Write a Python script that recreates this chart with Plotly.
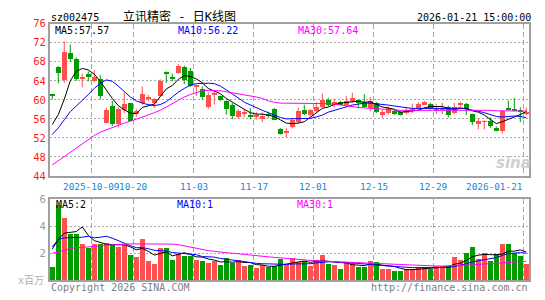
import plotly.graph_objects as go

W, H = 545, 300

dates = [
    "2025-09-22", "2025-09-23", "2025-09-24", "2025-09-25", "2025-09-26", "2025-09-29", "2025-09-30",
    "2025-10-09", "2025-10-10", "2025-10-13", "2025-10-14", "2025-10-15", "2025-10-16", "2025-10-17",
    "2025-10-20", "2025-10-21", "2025-10-22", "2025-10-23", "2025-10-24", "2025-10-27", "2025-10-28",
    "2025-10-29", "2025-10-30", "2025-10-31", "2025-11-03", "2025-11-04", "2025-11-05", "2025-11-06",
    "2025-11-07", "2025-11-10", "2025-11-11", "2025-11-12", "2025-11-13", "2025-11-14", "2025-11-17",
    "2025-11-18", "2025-11-19", "2025-11-20", "2025-11-21", "2025-11-24", "2025-11-25", "2025-11-26",
    "2025-11-27", "2025-11-28", "2025-12-01", "2025-12-02", "2025-12-03", "2025-12-04", "2025-12-05",
    "2025-12-08", "2025-12-09", "2025-12-10", "2025-12-11", "2025-12-12", "2025-12-15", "2025-12-16",
    "2025-12-17", "2025-12-18", "2025-12-19", "2025-12-22", "2025-12-23", "2025-12-24", "2025-12-25",
    "2025-12-26", "2025-12-29", "2025-12-30", "2025-12-31", "2026-01-05", "2026-01-06", "2026-01-07",
    "2026-01-08", "2026-01-09", "2026-01-12", "2026-01-13", "2026-01-14", "2026-01-15", "2026-01-16",
    "2026-01-19", "2026-01-20", "2026-01-21",
]

open_ = [61.1, 67.0, 64.3, 69.8, 68.7, 64.4, 65.5, 64.0, 64.4, 55.2,
         58.8, 55.0, 58.0, 59.3, 57.0, 59.4, 60.3, 59.3, 60.8, 65.8,
         64.8, 65.8, 67.0, 66.1, 62.8, 62.4, 58.5, 61.0, 60.8, 59.8,
         59.0, 56.4, 57.2, 56.8, 56.5, 56.0, 57.0, 58.2, 54.0, 53.2,
         54.3, 55.4, 57.9, 56.9, 57.8, 58.6, 60.0, 59.0, 59.5, 59.0,
         59.9, 60.0, 59.5, 58.4, 59.4, 56.8, 57.3, 57.7, 57.4, 57.3,
         57.7, 58.3, 59.1, 59.2, 57.8, 58.0, 58.6, 57.2, 58.9, 59.1,
         57.0, 54.9, 55.4, 55.6, 54.2, 53.4, 58.2, 58.2, 58.0, 57.0]
high = [61.2, 67.1, 72.3, 71.6, 68.9, 65.5, 66.0, 66.2, 65.2, 58.4,
        59.8, 58.5, 61.5, 59.4, 58.1, 62.8, 61.0, 60.4, 64.3, 66.0,
        65.5, 67.5, 67.2, 66.7, 63.2, 62.8, 61.6, 62.0, 60.9, 59.9,
        59.3, 58.0, 58.2, 58.3, 57.5, 57.3, 57.5, 58.3, 54.1, 54.1,
        56.2, 58.4, 59.0, 58.1, 59.5, 61.3, 60.4, 60.3, 59.8, 60.8,
        61.5, 60.1, 61.2, 60.6, 59.6, 57.9, 58.6, 58.2, 57.7, 58.3,
        59.2, 59.5, 59.8, 59.4, 59.2, 59.4, 58.8, 59.4, 59.6, 59.4,
        57.1, 56.2, 55.7, 56.3, 54.4, 57.9, 59.9, 60.4, 58.4, 58.4]
low = [60.1, 63.5, 63.6, 68.0, 64.0, 62.6, 63.9, 63.7, 60.1, 55.0,
       54.5, 54.2, 57.2, 55.5, 56.4, 59.0, 59.7, 58.3, 60.6, 63.6,
       63.9, 65.5, 63.3, 62.7, 60.8, 60.1, 58.1, 59.0, 59.7, 56.9,
       55.9, 56.0, 56.3, 55.9, 55.8, 55.3, 56.2, 55.7, 52.7, 52.1,
       54.0, 55.0, 56.8, 56.5, 57.4, 58.3, 58.6, 58.4, 58.8, 58.7,
       59.3, 58.2, 58.3, 57.6, 57.2, 56.2, 56.9, 56.8, 56.7, 56.9,
       57.2, 57.9, 59.0, 58.0, 57.0, 57.0, 56.3, 57.0, 58.5, 56.8,
       54.7, 53.8, 53.8, 54.1, 53.4, 52.9, 57.8, 57.6, 55.3, 56.7]
close = [61.0, 65.6, 70.2, 68.7, 64.4, 64.9, 64.8, 64.9, 60.9, 57.9,
         54.9, 58.2, 59.2, 55.7, 57.6, 61.3, 60.5, 60.2, 64.0, 65.6,
         64.6, 67.2, 64.2, 62.9, 63.1, 60.7, 61.0, 61.5, 60.0, 58.2,
         56.6, 57.8, 57.4, 56.6, 56.7, 56.6, 56.8, 55.9, 52.9, 53.4,
         55.9, 57.6, 57.0, 57.9, 58.6, 60.0, 59.0, 59.7, 59.1, 59.9,
         60.5, 59.4, 58.5, 59.9, 57.4, 57.5, 58.4, 57.0, 56.9, 57.9,
         58.2, 59.2, 59.5, 58.3, 58.0, 58.1, 56.9, 58.6, 59.4, 58.2,
         55.3, 55.6, 55.6, 54.6, 53.6, 57.6, 58.0, 57.9, 57.6, 57.5]

ma5 = [54.8, 56.9, 60.1, 64.0, 66.0, 66.6, 66.3, 65.4, 63.9, 62.1,
       60.3, 58.8, 57.9, 57.2, 57.1, 58.4, 58.7, 59.1, 60.7, 62.3,
       63.0, 64.3, 65.1, 64.9, 64.4, 63.6, 62.4, 61.8, 61.3, 60.3,
       59.5, 58.8, 58.0, 57.3, 57.0, 57.0, 56.8, 56.5, 55.8, 55.1,
       55.0, 55.1, 55.4, 56.4, 57.4, 58.2, 58.5, 59.0, 59.3, 59.5,
       59.6, 59.7, 59.5, 59.6, 59.1, 58.5, 58.3, 58.0, 57.4, 57.5,
       57.7, 57.8, 58.3, 58.6, 58.6, 58.6, 58.2, 58.0, 58.2, 58.2,
       57.7, 57.4, 56.8, 55.9, 55.0, 55.4, 55.9, 56.3, 56.9, 57.57]
ma10 = [52.7, 54.1, 55.8, 57.5, 58.7, 59.8, 61.1, 62.4, 63.5, 64.2,
        63.9, 62.9, 61.7, 60.6, 59.8, 59.3, 59.0, 58.8, 59.0, 59.6,
        60.6, 61.6, 62.4, 63.1, 63.4, 63.5, 63.5, 63.4, 62.9, 62.1,
        61.3, 60.4, 59.5, 58.9, 58.3, 57.8, 57.3, 56.8, 56.3, 56.0,
        56.0, 56.0, 56.0, 56.1, 56.4, 56.8, 57.4, 57.8, 58.1, 58.5,
        58.9, 59.1, 59.3, 59.3, 59.2, 59.0, 58.9, 58.7, 58.5, 58.3,
        58.2, 58.2, 58.2, 58.2, 58.1, 58.1, 58.1, 58.2, 58.3, 58.1,
        57.9, 57.6, 57.3, 56.9, 56.5, 56.4, 56.5, 56.6, 56.5, 56.22]
ma30 = [46.3, 47.2, 48.0, 48.9, 49.8, 50.8, 51.7, 52.5, 53.2, 53.7,
        54.2, 54.7, 55.1, 55.5, 55.9, 56.3, 56.8, 57.3, 57.8, 58.5,
        59.2, 59.9, 60.6, 61.1, 61.5, 61.9, 62.0, 62.0, 61.9, 61.7,
        61.5, 61.3, 61.1, 60.9, 60.6, 60.3, 59.8, 59.5, 59.3, 59.3,
        59.3, 59.3, 59.2, 59.2, 59.2, 59.2, 59.2, 59.1, 58.9, 58.7,
        58.5, 58.4, 58.3, 58.2, 58.1, 58.0, 57.9, 57.9, 57.8, 57.8,
        57.8, 57.8, 57.8, 57.8, 57.9, 57.9, 57.9, 57.9, 57.9, 57.9,
        57.9, 57.8, 57.8, 57.8, 57.7, 57.7, 57.7, 57.7, 57.6, 57.64]

volume = [0.99, 5.53, 4.61, 3.40, 3.40, 2.70, 2.41, 2.70, 2.65, 2.77,
          2.58, 2.46, 2.58, 1.89, 1.70, 3.05, 1.42, 1.18, 2.41, 2.41,
          1.51, 1.94, 1.82, 1.82, 1.51, 1.42, 1.23, 1.42, 1.11, 1.63,
          1.23, 1.47, 1.04, 1.11, 0.87, 1.11, 0.99, 1.04, 1.54, 1.11,
          1.65, 1.35, 1.39, 1.04, 1.47, 1.89, 1.18, 1.11, 0.83, 1.28,
          1.28, 0.99, 0.99, 1.39, 1.32, 0.83, 0.83, 0.69, 0.69, 0.83,
          0.83, 0.95, 0.95, 0.83, 1.04, 1.04, 1.04, 1.68, 1.47, 1.99,
          2.46, 1.58, 1.99, 1.39, 1.94, 2.70, 2.70, 1.99, 1.82, 1.18]
vma5 = [2.29, 3.00, 3.47, 3.52, 3.59, 3.93, 3.31, 2.92, 2.77, 2.65,
        2.62, 2.63, 2.61, 2.46, 2.24, 2.34, 2.13, 1.85, 1.95, 2.09,
        1.79, 1.89, 2.02, 1.90, 1.72, 1.70, 1.56, 1.48, 1.34, 1.36,
        1.32, 1.37, 1.30, 1.30, 1.14, 1.12, 1.02, 1.02, 1.11, 1.16,
        1.27, 1.34, 1.41, 1.31, 1.38, 1.43, 1.39, 1.34, 1.30, 1.26,
        1.14, 1.10, 1.07, 1.19, 1.19, 1.10, 1.07, 1.01, 0.87, 0.77,
        0.77, 0.80, 0.87, 0.88, 0.92, 0.96, 0.98, 1.17, 1.25, 1.44,
        1.73, 1.84, 1.90, 1.88, 1.87, 1.92, 2.14, 2.14, 2.23, 2.08]
vma10 = [2.46, 3.00, 3.12, 3.12, 3.12, 3.17, 3.24, 3.12, 3.17, 3.24,
         3.10, 2.90, 2.72, 2.55, 2.40, 2.40, 2.32, 2.20, 2.18, 2.15,
         2.04, 1.99, 1.93, 1.92, 1.88, 1.74, 1.70, 1.70, 1.60, 1.52,
         1.48, 1.43, 1.36, 1.30, 1.24, 1.21, 1.19, 1.15, 1.18, 1.16,
         1.19, 1.18, 1.22, 1.21, 1.27, 1.33, 1.35, 1.35, 1.30, 1.31,
         1.28, 1.24, 1.19, 1.18, 1.16, 1.08, 1.04, 1.00, 0.97, 0.94,
         0.92, 0.92, 0.92, 0.90, 0.90, 0.91, 0.93, 1.00, 1.08, 1.20,
         1.35, 1.42, 1.52, 1.57, 1.66, 1.82, 1.96, 2.00, 2.03, 1.99]
vma30 = [1.99, 2.06, 2.22, 2.29, 2.41, 2.41, 2.46, 2.53, 2.58, 2.58,
         2.60, 2.65, 2.66, 2.68, 2.68, 2.68, 2.68, 2.68, 2.68, 2.68,
         2.66, 2.62, 2.53, 2.41, 2.34, 2.22, 2.18, 2.13, 2.06, 2.02,
         1.99, 1.94, 1.89, 1.82, 1.80, 1.77, 1.72, 1.68, 1.64, 1.60,
         1.56, 1.50, 1.48, 1.45, 1.42, 1.40, 1.38, 1.35, 1.33, 1.31,
         1.29, 1.27, 1.25, 1.23, 1.21, 1.19, 1.17, 1.15, 1.12, 1.10,
         1.08, 1.07, 1.06, 1.05, 1.04, 1.04, 1.05, 1.07, 1.08, 1.10,
         1.13, 1.16, 1.19, 1.21, 1.24, 1.28, 1.32, 1.34, 1.37, 1.39]

price_ticks = [44, 48, 52, 56, 60, 64, 68, 72, 76]
vol_ticks = [2, 4, 6]
tick_dates = ["2025-10-09", "2025-10-20", "2025-11-03", "2025-11-17",
              "2025-12-01", "2025-12-15", "2025-12-29", "2026-01-21"]
tick_labels = ["2025-10-09", "10-20", "11-03", "11-17", "12-01", "12-15", "12-29", "2026-01-21"]

title_code = "sz002475"
title_name = "立讯精密 - 日K线图"
title_time = "2026-01-21 15:00:00"
legend_price = [("MA5:57.57", "#000000"), ("MA10:56.22", "#0000ff"), ("MA30:57.64", "#ff00ff")]
legend_vol = [("MA5:2", "#000000"), ("MA10:1", "#0000ff"), ("MA30:1", "#ff00ff")]

# ---------------------------------------------------------------
RED = "#ff5050"
GREEN = "#009c00"
GRID = "#a8a8a8"
MONO = "DejaVu Sans Mono, monospace"

x = list(range(len(dates)))
up = [c >= o for o, c in zip(open_, close)]
cols = [RED if u else GREEN for u in up]
body_base = [min(o, c) for o, c in zip(open_, close)]
body_h = [max(abs(c - o), 0.18) for o, c in zip(open_, close)]

fig = go.Figure()

# wicks
for want, col in ((True, RED), (False, GREEN)):
    wx, wy = [], []
    for i in x:
        if up[i] == want:
            wx += [i, i, None]
            wy += [low[i], high[i], None]
    fig.add_trace(go.Scatter(x=wx, y=wy, mode="lines", line=dict(color=col, width=1),
                             xaxis="x", yaxis="y", hoverinfo="skip", connectgaps=False))

# bodies
fig.add_trace(go.Bar(x=x, y=body_h, base=body_base, width=0.8,
                     marker=dict(color=cols, line=dict(width=0)), xaxis="x", yaxis="y"))

for arr, col in ((ma5, "#000000"), (ma10, "#0000ff"), (ma30, "#ff00ff")):
    fig.add_trace(go.Scatter(x=x, y=arr, mode="lines", line=dict(color=col, width=1),
                             xaxis="x", yaxis="y"))

# volume
fig.add_trace(go.Bar(x=x, y=volume, width=0.83,
                     marker=dict(color=cols, line=dict(width=0)), xaxis="x2", yaxis="y2"))
for arr, col in ((vma5, "#000000"), (vma10, "#0000ff"), (vma30, "#ff00ff")):
    fig.add_trace(go.Scatter(x=x, y=arr, mode="lines", line=dict(color=col, width=1),
                             xaxis="x2", yaxis="y2"))

tick_idx = [dates.index(d) for d in tick_dates]
grid_vals = [i - 0.4 for i in tick_idx]

def px_x(p):
    return p / W

def px_y(p):
    return 1 - p / H

xdom = [px_x(50), px_x(529)]
xr = [-0.38, 79.45]
common_x = dict(range=xr, domain=xdom, tickmode="array", tickvals=grid_vals,
                showticklabels=False, ticks="", showgrid=True, gridcolor=GRID,
                griddash="5px,3px", gridwidth=1, zeroline=False,
                showline=True, mirror=True, linecolor="#a0a0a0", linewidth=2)

fig.update_layout(
    width=W, height=H, margin=dict(l=0, r=0, t=0, b=0),
    paper_bgcolor="white", plot_bgcolor="white", showlegend=False,
    barmode="overlay", bargap=0,
    xaxis=dict(anchor="y", **common_x),
    xaxis2=dict(anchor="y2", matches="x", **common_x),
    yaxis=dict(domain=[px_y(177), px_y(18.5)], range=[44, 76], tickmode="array",
               tickvals=price_ticks, ticktext=[str(v) for v in price_ticks],
               tickfont=dict(family=MONO, size=10.5, color="#ff1a1a"), ticks="",
               showgrid=True, gridcolor=GRID, griddash="2px,2px", gridwidth=1,
               zeroline=False, showline=True, mirror=True, linecolor="#a0a0a0", linewidth=2,
               anchor="x"),
    yaxis2=dict(domain=[px_y(285.5), px_y(201)], range=[0, 6], tickmode="array",
                tickvals=vol_ticks, ticktext=[str(v) for v in vol_ticks],
                tickfont=dict(family=MONO, size=10.5, color="#999999"), ticks="",
                showgrid=True, gridcolor=GRID, griddash="2px,2px", gridwidth=1,
                zeroline=False, showline=True, mirror=True, linecolor="#a0a0a0", linewidth=2,
                anchor="x2"),
)

ann = []
def add_text(text, px, py, xanchor="left", color="#000", size=10, family=MONO, **kw):
    ann.append(dict(text=text, x=px_x(px), y=px_y(py), xref="paper", yref="paper",
                    xanchor=xanchor, yanchor="middle", showarrow=False,
                    font=dict(family=family, size=size, color=color), **kw))

add_text(title_code, 49, 11.5, color="#000000", size=10)
add_text(title_name, 121, 10.5, color="#000000", size=12,
         family="DejaVu Sans Mono, Noto Sans CJK SC")
add_text(title_time, 533, 12, xanchor="right", color="#000000", size=10)

for (t, c), p in zip(legend_price, [53, 176, 296]):
    add_text(t, p, 25, color=c, size=10)
for (t, c), p in zip(legend_vol, [54, 175, 295]):
    add_text(t, p, 207, color=c, size=10)

# date tick labels (data x positions)
for k, (i, lab) in enumerate(zip(tick_idx, tick_labels)):
    last = k == len(tick_idx) - 1
    ann.append(dict(text=lab, x=(78.8 if last else i - 0.4), y=px_y(187.5), xref="x", yref="paper",
                    xanchor="right" if last else "center", yanchor="middle", showarrow=False,
                    font=dict(family=MONO, size=9.4, color="#1188dd")))

add_text("x百万", 46, 286, xanchor="right", color="#b0b0b0", size=10,
         family="DejaVu Sans Mono, Noto Sans CJK SC")
add_text("Copyright 2026 SINA.COM", 49, 293, color="#808080", size=10)
add_text("http://finance.sina.com.cn", 530, 293, xanchor="right", color="#808080", size=10)
add_text("<b><i>sina</i></b>", 513, 164, xanchor="center", color="#cfcfcf", size=15,
         family="DejaVu Sans")

fig.update_layout(annotations=ann)
fig.write_html("out.html")
